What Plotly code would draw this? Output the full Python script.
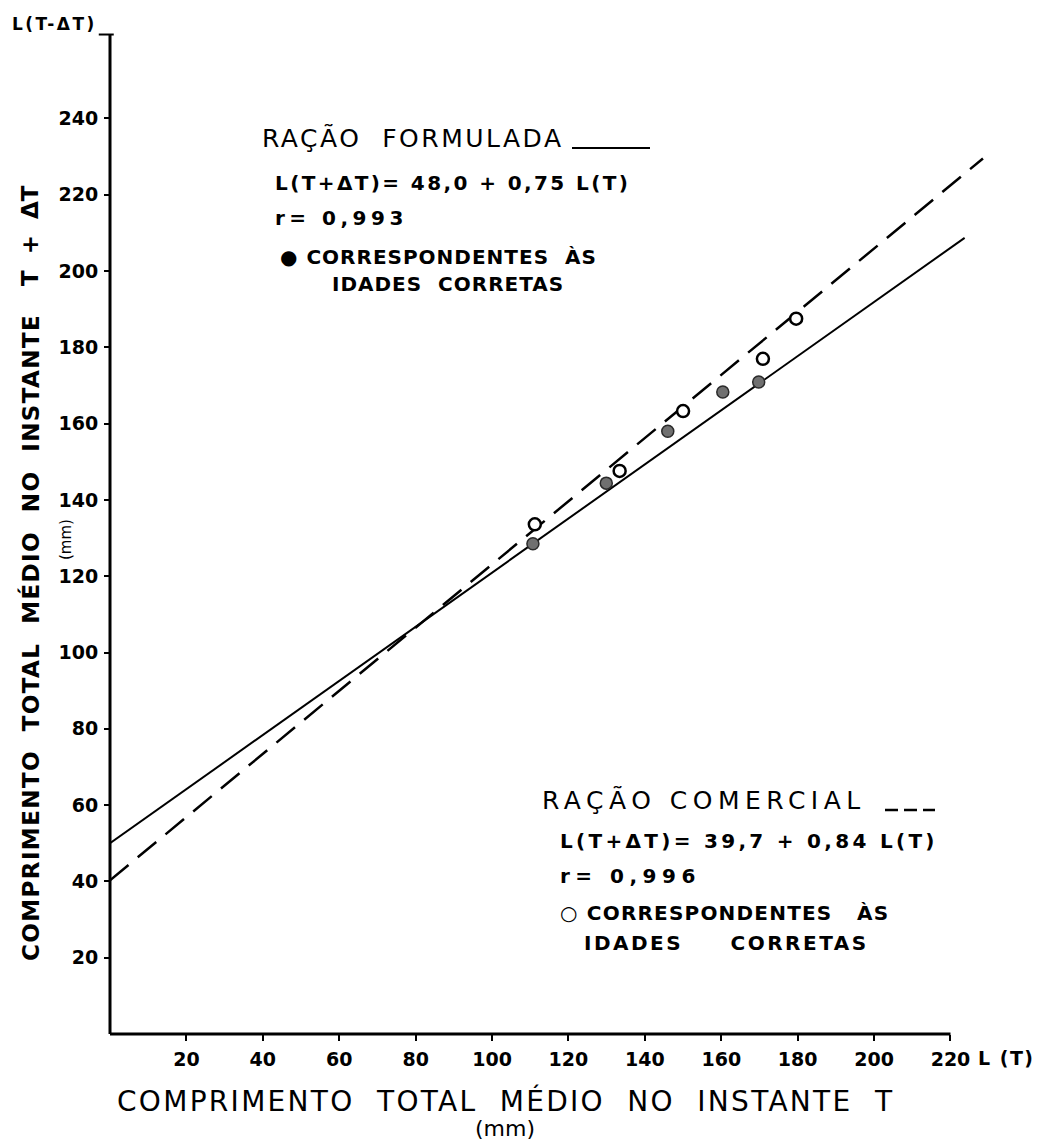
import plotly.graph_objects as go

# Data
form_x = [110.7, 129.9, 146.0, 160.4, 169.8]
form_y = [128.5, 144.4, 158.0, 168.3, 170.9]
com_x = [111.2, 133.4, 150.0, 170.9, 179.6]
com_y = [133.6, 147.6, 163.3, 177.0, 187.5]

# regression lines as drawn (end points)
form_line_x = [0, 223.7]
form_line_y = [50.0, 208.7]
com_line_x = [0, 228.5]
com_line_y = [40.3, 229.5]

x_ticks = [20, 40, 60, 80, 100, 120, 140, 160, 180, 200, 220]
y_ticks = [20, 40, 60, 80, 100, 120, 140, 160, 180, 200, 220, 240]
x_axis_end = 220
y_axis_end = 262

FONT = "DejaVu Sans"
W, H = 1053, 1142
ML, MR, MT, MB = 110, 7, 4, 108

fig = go.Figure()
fig.add_trace(go.Scatter(x=form_line_x, y=form_line_y, mode="lines",
                         line=dict(color="black", width=2), showlegend=False))
fig.add_trace(go.Scatter(x=com_line_x, y=com_line_y, mode="lines",
                         line=dict(color="black", width=2.5, dash="24px,12px"), showlegend=False))
fig.add_trace(go.Scatter(x=form_x, y=form_y, mode="markers",
                         marker=dict(size=12, color="#707070", line=dict(color="#2a2a2a", width=1.5)),
                         showlegend=False))
fig.add_trace(go.Scatter(x=com_x, y=com_y, mode="markers",
                         marker=dict(size=12, color="white", line=dict(color="black", width=2.5)),
                         showlegend=False))

# axis lines (one paper ref so they are not clipped across)
fig.add_shape(type="line", xref="x", yref="paper", x0=0, y0=0, x1=x_axis_end, y1=0,
              line=dict(color="black", width=3))
fig.add_shape(type="line", xref="paper", yref="y", x0=0, y0=0, x1=0, y1=y_axis_end,
              line=dict(color="black", width=3))
fig.add_shape(type="line", xref="paper", yref="y", x0=-0.012, y0=y_axis_end, x1=0.004, y1=y_axis_end,
              line=dict(color="black", width=2))

ann = []
def px(p):
    return (p - ML) / (W - ML - MR)
def py(p):
    return (H - MB - p) / (H - MT - MB)

def A(text, x, y, size, xanchor="left", bold=False, textangle=0, ls=0):
    t = text
    if ls:
        t = f'<span style="letter-spacing:{ls}px">{t}</span>'
    if bold:
        t = f"<b>{t}</b>"
    ann.append(dict(text=t, x=px(x), y=py(y), xref="paper", yref="paper", showarrow=False,
                    xanchor=xanchor, yanchor="middle", textangle=textangle,
                    font=dict(family=FONT, size=size, color="black")))

A("RAÇÃO  FORMULADA", 260, 138, 25, ls=2.5)
A("L(T+ΔT)= 48,0 + 0,75 L(T)", 273, 183, 20, bold=True, ls=2.4)
A("r= 0,993", 273, 218, 20, bold=True, ls=4.5)
A("● CORRESPONDENTES  ÀS", 278, 257, 20, bold=True, ls=1)
A("IDADES  CORRETAS", 330, 284, 20, bold=True, ls=1)

A("RAÇÃO COMERCIAL", 540, 800, 25, ls=5.5)
A("L(T+ΔT)= 39,7 + 0,84 L(T)", 558, 841, 20, bold=True, ls=3.3)
A("r= 0,996", 558, 876, 20, bold=True, ls=5.5)
A("○ CORRESPONDENTES   ÀS", 558, 913, 20, bold=True, ls=1.2)
A("IDADES     CORRETAS", 582, 943, 20, bold=True, ls=2.5)

# legend line samples next to titles
fig.add_shape(type="line", xref="paper", yref="paper", x0=px(572), x1=px(650), y0=py(148), y1=py(148),
              line=dict(color="black", width=2))
fig.add_shape(type="line", xref="paper", yref="paper", x0=px(885), x1=px(935), y0=py(810), y1=py(810),
              line=dict(color="black", width=2.5, dash="13px,6px"))

# axis labels
A("L(T-ΔT)", 10, 24, 17, bold=True, ls=2.5)
A("L (T)", 976, 1058, 19, bold=True, ls=1.5)
A("COMPRIMENTO  TOTAL  MÉDIO  NO  INSTANTE  T", 505, 1101, 28, xanchor="center", ls=2.3)
A("(mm)", 505, 1128, 22, xanchor="center")
A("COMPRIMENTO  TOTAL  MÉDIO  NO  INSTANTE", 30, 638, 23, xanchor="center", bold=True,
  textangle=-90, ls=1.4)
A("T  +  ΔT", 30, 236, 23, xanchor="center", bold=True, textangle=-90)
A("(mm)", 66, 540, 15, xanchor="center", textangle=-90)

fig.update_layout(
    width=W, height=H,
    margin=dict(l=ML, r=MR, t=MT, b=MB),
    paper_bgcolor="white", plot_bgcolor="white",
    annotations=ann,
    xaxis=dict(range=[0, 245], showgrid=False, zeroline=False, showline=False,
               tickvals=x_ticks, ticks="outside", ticklen=6, tickwidth=2, tickcolor="black",
               ticklabelstandoff=2,
               tickfont=dict(family=FONT, size=19, color="black", weight="bold")),
    yaxis=dict(range=[0, 270], showgrid=False, zeroline=False, showline=False,
               tickvals=y_ticks, ticks="outside", ticklen=5, tickwidth=2, tickcolor="black",
               ticklabelstandoff=2,
               tickfont=dict(family=FONT, size=19, color="black", weight="bold")),
)

fig.write_html("out.html")
